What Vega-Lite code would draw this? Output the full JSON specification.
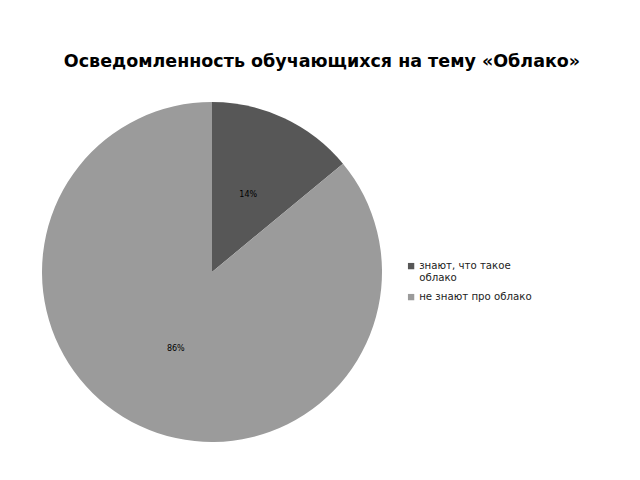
{
  "$schema": "https://vega.github.io/schema/vega-lite/v6.json",
  "autosize": {"type": "none"},
  "width": 424,
  "height": 340,
  "padding": {"left": 0, "top": 102, "right": 216, "bottom": 38},
  "background": "white",
  "title": {
    "text": "Осведомленность обучающихся на тему «Облако»",
    "font": "DejaVu Sans",
    "fontSize": 17.5,
    "fontWeight": "bold",
    "color": "#000000",
    "anchor": "middle",
    "dx": 110,
    "offset": 32
  },
  "data": {
    "values": [
      {"category": "знают, что такое облако", "value": 14, "label": "14%", "order": 1},
      {"category": "не знают про облако", "value": 86, "label": "86%", "order": 2}
    ]
  },
  "encoding": {
    "theta": {"field": "value", "type": "quantitative", "stack": true},
    "order": {"field": "order", "type": "quantitative"}
  },
  "layer": [
    {
      "mark": {"type": "arc", "outerRadius": 170, "stroke": null},
      "encoding": {
        "color": {
          "field": "category",
          "type": "nominal",
          "sort": ["знают, что такое облако", "не знают про облако"],
          "scale": {"domain": ["знают, что такое облако", "не знают про облако"], "range": ["#575757", "#9b9b9b"]},
          "legend": {
            "title": null,
            "orient": "none",
            "legendX": 406,
            "legendY": 159,
            "symbolType": "square",
            "symbolSize": 40,
            "symbolStrokeWidth": 0,
            "labelFont": "DejaVu Sans",
            "labelFontSize": 10.2,
            "labelColor": "#222222",
            "labelOffset": 3,
            "rowPadding": 8,
            "labelExpr": "datum.label == 'знают, что такое облако' ? ['знают, что такое', 'облако'] : datum.label"
          }
        }
      }
    },
    {
      "mark": {"type": "text", "radius": 85, "font": "DejaVu Sans", "fontSize": 8, "color": "#000000"},
      "encoding": {
        "text": {"field": "label", "type": "nominal"}
      }
    }
  ]
}
